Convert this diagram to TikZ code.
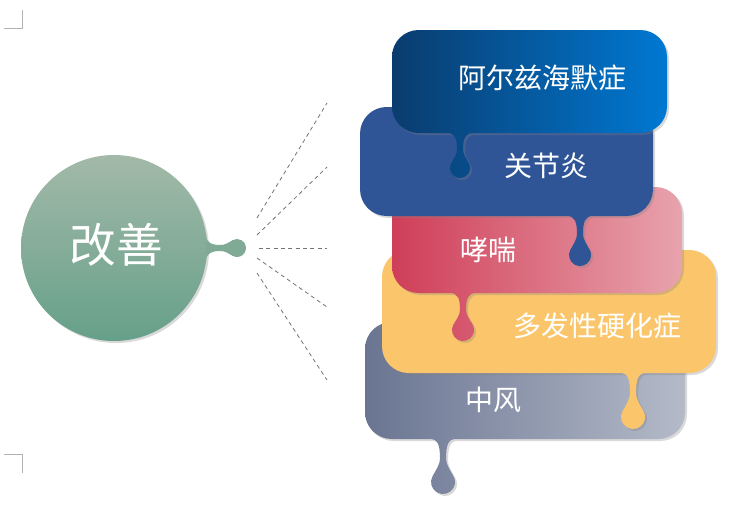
\documentclass[tikz,border=0pt]{standalone}
\usepackage{fontspec}
\newfontfamily\cjk{Noto Sans CJK SC}
\usetikzlibrary{shadows}
\definecolor{alzL}{HTML}{0A3C6E}
\definecolor{alzR}{HTML}{0078D2}
\definecolor{gjy}{HTML}{2F5597}
\definecolor{xcL}{HTML}{CF3E58}
\definecolor{xcR}{HTML}{E8A3AD}
\definecolor{dfx}{HTML}{FBC66B}
\definecolor{zfL}{HTML}{6A7592}
\definecolor{zfR}{HTML}{B4BAC8}
\definecolor{gsT}{HTML}{A3B9A8}
\definecolor{gsB}{HTML}{66A08A}
\definecolor{gsM}{HTML}{80AA96}
\def\drip(#1,#2)(#3:#4){({#1-13},#2) .. controls ({#1-5},#2) and ({#1-3},{#2-6}) .. ({#1-3},{#2-0.65*(#3-#4)}) .. controls ({#1-3},{#2-0.65*(#3-#4)-5}) and ({#1-0.866*#4+2.5},{#2-#3+0.5*#4+4.3}) .. ({#1-0.866*#4},{#2-#3+0.5*#4}) arc (150:390:#4) .. controls ({#1+0.866*#4-2.5},{#2-#3+0.5*#4+4.3}) and ({#1+3},{#2-0.65*(#3-#4)-5}) .. ({#1+3},{#2-0.65*(#3-#4)}) .. controls ({#1+3},{#2-6}) and ({#1+5},#2) .. ({#1+13},#2) -- cycle}

\begin{document}
\begin{tikzpicture}[x=0.75pt,y=0.75pt,
	card/.style={rounded corners=20,drop shadow={shadow xshift=1.5pt,shadow yshift=-1.5pt,opacity=0.3}},
	cardtext/.style={text=white,inner sep=0pt,font=\cjk\fontsize{21}{21}\selectfont}]
				\useasboundingbox (0,0) rectangle (737,-507);
				
				\draw[black!30,line width=0.6pt] (4,-28) -- (22,-28) -- (22,-10);
				\draw[black!30,line width=0.6pt] (4,-454) -- (22,-454) -- (22,-473);
				
				\shade[top color=gsT,bottom color=gsB,drop shadow={shadow xshift=1.5pt,shadow yshift=-1.5pt,opacity=0.3}] (114,-248) circle (93);
				\begin{scope}[rotate around={90:(206,-248)}]
					\fill[gsM] \drip(206,-248)(31:9);
				\end{scope}
				\node[cardtext,font=\cjk\fontsize{35}{35}\selectfont] (gs) at (116,-245) {改善};
				
				\coordinate (s1) at (257,-218);
				\coordinate (s2) at (257,-235);
				\coordinate (s3) at (259,-248);
				\coordinate (s4) at (257,-258);
				\coordinate (s5) at (257,-273);
				\coordinate (e1) at (327,-103);
				\coordinate (e2) at (327,-167);
				\coordinate (e3) at (327,-248);
				\coordinate (e4) at (327,-307);
				\coordinate (e5) at (327,-380);
				\draw[black!55,line width=0.6pt,dash pattern=on 3pt off 2.5pt] (s1) -- (e1);
				\draw[black!55,line width=0.6pt,dash pattern=on 3pt off 2.5pt] (s2) -- (e2);
				\draw[black!55,line width=0.6pt,dash pattern=on 3pt off 2.5pt] (s3) -- (e3);
				\draw[black!55,line width=0.6pt,dash pattern=on 3pt off 2.5pt] (s4) -- (e4);
				\draw[black!55,line width=0.6pt,dash pattern=on 3pt off 2.5pt] (s5) -- (e5);
				
				\shade[card,left color=zfL,right color=zfR] (525,-322) -- (365,-322) -- (365,-439) -- (685,-439) -- (685,-322) -- cycle [sharp corners] \drip(443,-439)(43:12);
				\node[cardtext] (zf) at (493,-400) {中风};
				
				\fill[card,dfx] (549,-250) -- (382,-250) -- (382,-373) -- (716,-373) -- (716,-250) -- cycle [sharp corners] \drip(633,-373)(44:12);
				\node[cardtext] (dfx) at (597,-326) {多发性硬化症};
				
				\shade[card,left color=xcL,right color=xcR] (537,-187) -- (392,-187) -- (392,-293) -- (682,-293) -- (682,-187) -- cycle [sharp corners] \drip(463,-293)(37:11);
				\node[cardtext] (xc) at (488,-250) {哮喘};
				
				\fill[card,gjy] (506,-107) -- (360,-107) -- (360,-216) -- (653,-216) -- (653,-107) -- cycle [sharp corners] \drip(580,-216)(39:11);
				\node[cardtext] (gjy) at (546,-166) {关节炎};
				
				\shade[card,left color=alzL,right color=alzR] (530,-30) -- (392,-30) -- (392,-133) -- (667,-133) -- (667,-30) -- cycle [sharp corners] \drip(460,-133)(35:10);
				\node[cardtext] (alz) at (542,-78) {阿尔兹海默症};
\end{tikzpicture}
\end{document}
